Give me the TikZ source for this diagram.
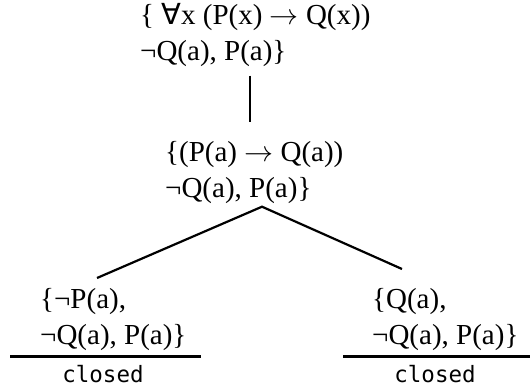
\documentclass[tikz,border=0pt]{standalone}
\usepackage{fix-cm}
\usepackage{fontspec}
\setmainfont{Liberation Serif}
\setmonofont{DejaVu Sans Mono}
\newfontfamily\quantfont{DejaVu Sans}
\usepackage{tikz}
\usetikzlibrary{calc,positioning}
\tikzset{%
  % Specifications for style of nodes:
  formula/.style = {align=left, inner sep=0pt, anchor=north west,
    font=\fontsize{29}{36}\selectfont},
  verdict/.style = {inner sep=0pt, anchor=north,
    font=\ttfamily\fontsize{22.5}{26}\selectfont},
  branch/.style = {line width=2.2pt},
  rulebar/.style = {line width=2.4pt},
}
\newcommand{\imp}{$\rightarrow$}

\begin{document}
\begin{tikzpicture}[x=1pt,y=1pt]
        \useasboundingbox (0,0) rectangle (530,-390);
        % Specification of nodes (position, etc.)
        \node(Top)[formula] at (140,-3){%
          \{ {\quantfont ∀}x (P(x) \imp{} Q(x))\\
          ¬Q(a), P(a)\}};
        \node(Inst)[formula] at (165,-141){%
          \{(P(a) \imp{} Q(a))\\
          ¬Q(a), P(a)\}};
        \node(NotP)[formula] at (40,-288){%
          \{¬P(a),\\
          ¬Q(a), P(a)\}};
        \node(IsQ)[formula] at (372,-288){%
          \{Q(a),\\
          ¬Q(a), P(a)\}};
        \node(ClosedL)[verdict] at ($(NotP.south west)+(63,-14)$){closed};
        \node(ClosedR)[verdict] at ($(IsQ.south west)+(63,-14)$){closed};
        % Tree edges
        \coordinate(Fork) at ($(Inst.south west)+(97,-3)$);
        \draw[branch]($(Top.south west)+(110,-9)$) -- ($(Inst.north west)+(85,19)$);
        \draw[branch]($(NotP.north west)+(57,10)$) -- (Fork) -- ($(IsQ.north west)+(30,19)$);
        % Closing bars
        \draw[rulebar]($(NotP.south west)+(-30,-6)$) -- ++(191,0);
        \draw[rulebar]($(IsQ.south west)+(-29,-6)$) -- ++(187,0);
    \end{tikzpicture}
\end{document}
